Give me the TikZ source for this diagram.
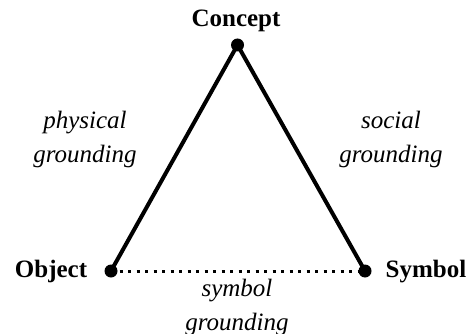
\documentclass[tikz,border=0pt]{standalone}
\usepackage{fontspec}
\setmainfont{Liberation Serif}
\begin{document}
\begin{tikzpicture}[x=1pt,y=-1pt,
  dot/.style={circle,fill=black,inner sep=0pt,minimum size=13pt},
  edge/.style={line width=4pt},
  dotline/.style={line width=3pt,dash pattern=on 3pt off 5.5pt},
  vertex/.style={font=\fontsize{25}{30}\selectfont\bfseries,inner sep=0pt,anchor=base},
  lab/.style={font=\fontsize{25}{34}\selectfont\itshape,align=center,inner sep=0pt,anchor=base}]
\useasboundingbox (0,0) rectangle (473,334);
\node[dot] (C) at (237.5,45) {};
\node[dot] (O) at (111,271) {};
\node[dot] (S) at (365,271) {};
\draw[edge] (O.center) -- (C.center) -- (S.center);
\draw[dotline] (O.center) -- (S.center);
\node[vertex] (cl) at (236,27) {Concept};
\node[vertex] (ol) at (51,277) {Object};
\node[vertex] (sl) at (426,277) {Symbol};
\node[lab] (pg) at (85,162) {physical\\grounding};
\node[lab] (sg) at (391,162) {social\\grounding};
\node[lab] (yg) at (237,330) {symbol\\grounding};
\end{tikzpicture}
\end{document}
